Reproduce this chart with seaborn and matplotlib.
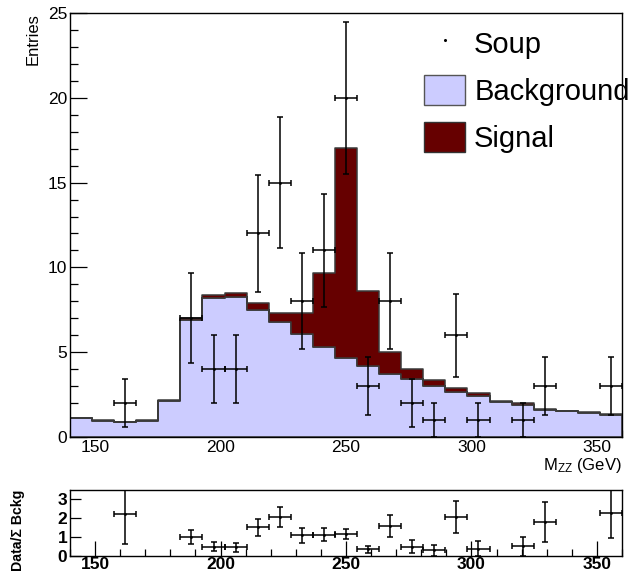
import numpy as np
import pandas as pd
import matplotlib
matplotlib.use("Agg")
import matplotlib.pyplot as plt
import seaborn as sns
from matplotlib.patches import Patch
from matplotlib.lines import Line2D
from matplotlib.ticker import MultipleLocator

# ---------------- data ----------------
mass_low, mass_high, n_bins = 140.0, 360.0, 25
background = np.array([1.10, 0.95, 0.86, 0.95, 2.14, 6.92, 8.20, 8.27, 7.49, 6.76,
                       6.07, 5.30, 4.67, 4.20, 3.69, 3.40, 3.02, 2.65, 2.39, 2.06,
                       1.86, 1.59, 1.53, 1.43, 1.31])
signal = np.array([0.03, 0.03, 0.03, 0.03, 0.05, 0.08, 0.15, 0.20, 0.43, 0.53,
                   1.26, 4.37, 12.35, 4.40, 1.33, 0.58, 0.35, 0.23, 0.18, 0.09,
                   0.12, 0.06, 0.03, 0.02, 0.02])
soup = np.array([0, 0, 2, 0, 0, 7, 4, 4, 12, 15, 8, 11, 20, 3, 8, 2, 1, 6, 1, 0,
                 1, 3, 0, 0, 3])
legend_labels = ["Soup", "Background", "Signal"]
components = ["Background", "Signal"]
x_ticks = [150, 200, 250, 300, 350]
y_ticks_main = [0, 5, 10, 15, 20, 25]
y_ticks_ratio = [0, 1, 2, 3]

# ---------------- style ----------------
sns.set_theme(style="white")
plt.rcParams["font.family"] = ["Liberation Sans", "DejaVu Sans"]
plt.rcParams["mathtext.default"] = "regular"
for k in ["text.color", "axes.labelcolor", "xtick.color", "ytick.color", "axes.edgecolor"]:
    plt.rcParams[k] = "black"

bg_color = "#ccccff"
sig_color = "#660000"

edges = np.linspace(mass_low, mass_high, n_bins + 1)
centers = 0.5 * (edges[:-1] + edges[1:])
half = 0.5 * (edges[1] - edges[0])

W, H = 637, 574
fig = plt.figure(figsize=(W / 100, H / 100), dpi=100)
ax = fig.add_axes([70 / W, 1 - 437 / H, 552 / W, 424 / H])
axr = fig.add_axes([70 / W, 1 - 556 / H, 552 / W, 66 / H])

# ---------------- main panel ----------------
df = pd.DataFrame({
    "mass": np.concatenate([centers, centers]),
    "weight": np.concatenate([background, signal]),
    "component": [components[0]] * n_bins + [components[1]] * n_bins,
})
sns.histplot(data=df, x="mass", weights="weight", hue="component",
             hue_order=["Signal", "Background"], bins=n_bins,
             binrange=(mass_low, mass_high), multiple="stack",
             element="step", fill=True,
             palette={"Background": bg_color, "Signal": sig_color},
             edgecolor="#3a3a3a", linewidth=1.1, alpha=1, legend=False, ax=ax)

has = soup > 0
ax.errorbar(centers[has], soup[has], xerr=half, yerr=np.sqrt(soup[has]),
            fmt="o", ms=1, color="black", elinewidth=1.1, capsize=2.5,
            capthick=1.1, zorder=5)

ax.set_xlim(mass_low, mass_high)
ax.set_ylim(0, 25)
ax.set_xticks(x_ticks)
ax.set_yticks(y_ticks_main)
ax.xaxis.set_minor_locator(MultipleLocator(10))
ax.yaxis.set_minor_locator(MultipleLocator(1))
ax.tick_params(axis="y", which="major", direction="in", length=12, width=0.9,
               pad=2, labelsize=12.5, left=True, right=False)
ax.tick_params(axis="y", which="minor", direction="in", length=6, width=0.9,
               left=True, right=False)
ax.tick_params(axis="x", which="major", direction="in", length=9.4, width=0.9,
               pad=2.5, labelsize=12.5, bottom=True, top=False)
ax.tick_params(axis="x", which="minor", direction="in", length=5, width=0.9,
               bottom=True, top=False)
for s in ax.spines.values():
    s.set_linewidth(1.0)
    s.set_color("black")

ax.set_ylabel("Entries", loc="top", fontsize=12)
ax.yaxis.set_label_coords(-0.053, 1.0)
ax.set_xlabel(r"M$_{ZZ}$ (GeV)", loc="right", fontsize=12)
ax.xaxis.set_label_coords(1.0, -0.045)

handles = [
    Line2D([], [], marker="o", ms=1.2, color="black", linestyle="none"),
    Patch(facecolor=bg_color, edgecolor="#555555", linewidth=1),
    Patch(facecolor=sig_color, edgecolor="#333333", linewidth=1),
]
fig.legend(handles, legend_labels, loc="upper left",
           bbox_to_anchor=(424 / W, 1 - 28 / H), frameon=False, fontsize=21,
           handlelength=1.42, handleheight=1.22, handletextpad=0.3,
           labelspacing=0.55, borderpad=0, borderaxespad=0)

# ---------------- ratio panel ----------------
total = background + signal
ratio = soup / total
ratio_err = np.sqrt(soup) / total
axr.errorbar(centers[has], ratio[has], xerr=half, yerr=ratio_err[has],
             fmt="o", ms=1, color="black", elinewidth=1.1, capsize=2.5,
             capthick=1.1, zorder=5)
axr.set_xlim(mass_low, mass_high)
axr.set_ylim(0, 3.5)
axr.set_xticks(x_ticks)
axr.set_yticks(y_ticks_ratio)
axr.xaxis.set_minor_locator(MultipleLocator(10))
axr.tick_params(axis="x", which="major", direction="in", length=10.8, width=0.9,
                pad=1, bottom=True, top=False)
axr.tick_params(axis="x", which="minor", direction="in", length=5, width=0.9,
                bottom=True, top=False)
axr.tick_params(axis="y", which="major", direction="in", length=8, width=0.9,
                pad=2, left=True, right=False)
for lab in axr.get_xticklabels() + axr.get_yticklabels():
    lab.set_fontweight("bold")
    lab.set_fontsize(12.5)
for s in axr.spines.values():
    s.set_linewidth(1.0)
    s.set_color("black")
axr.set_ylabel("Data/\u03a3 Bckg", loc="top", fontsize=10.2, fontweight="bold")
axr.yaxis.set_label_coords(-0.0815, 1.0)
axr.set_xlabel("")

fig.savefig("out.png", dpi=100)
